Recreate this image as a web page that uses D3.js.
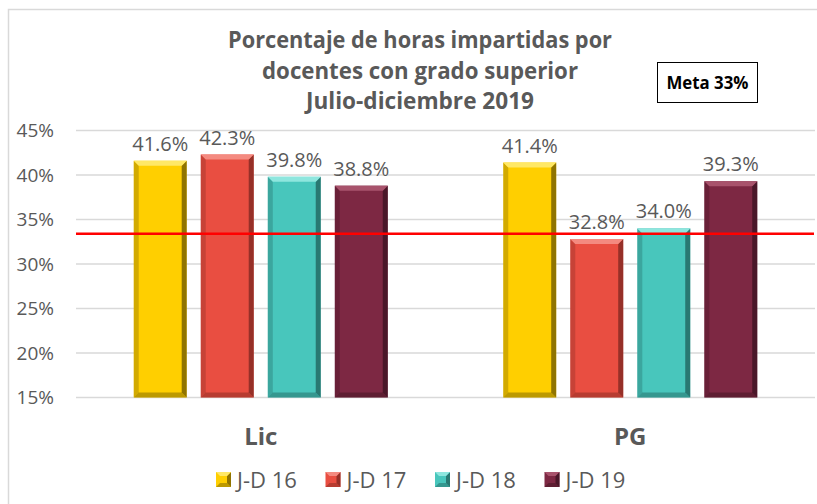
<!DOCTYPE html>
<html>
<head>
<meta charset="utf-8">
<script src="https://cdn.jsdelivr.net/npm/d3@7"></script>
<style>
  body { margin: 0; background: #fff; }
  svg { display: block; font-family: "Open Sans", sans-serif; }
</style>
</head>
<body>
<svg width="817" height="504"></svg>
<script>
const categories = ["Lic", "PG"];
const seriesNames = ["J-D 16", "J-D 17", "J-D 18", "J-D 19"];
const jd16 = [41.6, 41.4];
const jd17 = [42.3, 32.8];
const jd18 = [39.8, 34.0];
const jd19 = [38.8, 39.3];
const yTicks = [15, 20, 25, 30, 35, 40, 45];
const metaLine = 33.4;
const titleLines = ["Porcentaje de horas impartidas por", "docentes con grado superior", "Julio-diciembre 2019"];
const metaLabel = "Meta 33%";

(function() {
const seriesValues = [jd16, jd17, jd18, jd19];
const colors = ["#FFCF00", "#E94E41", "#48C6BC", "#7D2843"];
const darks = ["#6b5600", "#7a2720", "#1f5e59", "#3a1220"];
const lights = ["#FFE866", "#F48A80", "#8EE6DE", "#A8536C"];

const svg = d3.select("svg");

// chart frame
svg.append("path")
  .attr("d", "M8.5,504 L8.5,9.5 L817,9.5")
  .attr("fill", "none")
  .attr("stroke", "#d9d9d9")
  .attr("stroke-width", 1.5);

const plotLeft = 76, plotRight = 815, plotTop = 130.5, plotBottom = 397.5;

const y = d3.scaleLinear().domain([15, 45]).range([plotBottom, plotTop]);
const x0 = d3.scaleBand().domain(categories).range([plotLeft, plotRight])
  .paddingInner(0.3126).paddingOuter(0.1563);
const x1 = d3.scaleBand().domain(seriesNames).range([0, x0.bandwidth()])
  .paddingInner(0.21).paddingOuter(0);

// gridlines
svg.append("g").selectAll("line").data(yTicks).join("line")
  .attr("x1", plotLeft).attr("x2", plotRight)
  .attr("y1", d => y(d)).attr("y2", d => y(d))
  .attr("stroke", "#d9d9d9").attr("stroke-width", 1.3);

// y axis
const yAxis = svg.append("g")
  .attr("transform", `translate(${plotLeft},0)`)
  .call(d3.axisLeft(y).tickValues(yTicks).tickFormat(d => d + "%").tickSize(0).tickPadding(22));
yAxis.select(".domain").remove();
yAxis.selectAll("text")
  .attr("font-family", "Open Sans, sans-serif")
  .attr("font-size", 19).attr("fill", "#595959");

// bars
const rows = [];
categories.forEach((c, ci) => {
  seriesNames.forEach((s, si) => {
    rows.push({ cat: c, ser: s, si: si, v: seriesValues[si][ci] });
  });
});

const bars = svg.append("g").selectAll("g").data(rows).join("g")
  .attr("transform", d => `translate(${x0(d.cat) + x1(d.ser)},0)`);

const bw = x1.bandwidth();
const bev = 5;

bars.append("rect")
  .attr("x", 0).attr("y", d => y(d.v))
  .attr("width", bw).attr("height", d => plotBottom - y(d.v))
  .attr("fill", d => colors[d.si]);

// right edge (dark)
bars.append("path")
  .attr("d", d => {
    const t = y(d.v);
    return `M${bw},${t} L${bw},${plotBottom} L${bw - bev},${plotBottom - bev} L${bw - bev},${t + bev} Z`;
  })
  .attr("fill", d => darks[d.si]).attr("opacity", 0.75);

// bottom edge
bars.append("path")
  .attr("d", d => `M0,${plotBottom} L${bw},${plotBottom} L${bw - bev},${plotBottom - bev} L${bev},${plotBottom - bev} Z`)
  .attr("fill", d => darks[d.si]).attr("opacity", 0.45);

// left edge
bars.append("path")
  .attr("d", d => {
    const t = y(d.v);
    return `M0,${t} L${bev},${t + bev} L${bev},${plotBottom - bev} L0,${plotBottom} Z`;
  })
  .attr("fill", d => darks[d.si]).attr("opacity", 0.3);

// top edge (light)
bars.append("path")
  .attr("d", d => {
    const t = y(d.v);
    return `M0,${t} L${bw},${t} L${bw - bev},${t + bev} L${bev},${t + bev} Z`;
  })
  .attr("fill", d => lights[d.si]);

// value labels
bars.append("text")
  .attr("x", bw / 2).attr("y", d => y(d.v) - 10)
  .attr("text-anchor", "middle")
  .attr("font-size", 20).attr("fill", "#595959")
  .text(d => d.v.toFixed(1) + "%");

// meta line
svg.append("line")
  .attr("x1", plotLeft).attr("x2", plotRight - 1)
  .attr("y1", y(metaLine)).attr("y2", y(metaLine))
  .attr("stroke", "#ff0000").attr("stroke-width", 2.5);

// category labels
svg.append("g").selectAll("text").data(categories).join("text")
  .attr("x", d => x0(d) + x0.bandwidth() / 2).attr("y", 445)
  .attr("text-anchor", "middle")
  .attr("font-size", 24).attr("font-weight", "bold").attr("fill", "#595959")
  .text(d => d);

// title
svg.append("g").selectAll("text").data(titleLines).join("text")
  .attr("x", 420).attr("y", (d, i) => 48 + i * 30.5)
  .attr("text-anchor", "middle")
  .attr("font-size", 23).attr("font-weight", "bold").attr("fill", "#595959")
  .attr("textLength", (d, i) => [384, 316, 228][i])
  .attr("lengthAdjust", "spacingAndGlyphs")
  .text(d => d);

// meta box
svg.append("rect")
  .attr("x", 657.5).attr("y", 62.5).attr("width", 100).attr("height", 40)
  .attr("fill", "#fff").attr("stroke", "#000").attr("stroke-width", 1);
svg.append("text")
  .attr("x", 707.5).attr("y", 88.5).attr("text-anchor", "middle")
  .attr("font-size", 17).attr("font-weight", "bold").attr("fill", "#000")
  .attr("textLength", 82).attr("lengthAdjust", "spacingAndGlyphs")
  .text(metaLabel);

// legend
const legend = svg.append("g").selectAll("g").data(seriesNames).join("g")
  .attr("transform", (d, i) => `translate(${216 + i * 109.5},472)`);
legend.append("rect")
  .attr("width", 15).attr("height", 15)
  .attr("fill", (d, i) => colors[i]);
legend.append("path")
  .attr("d", "M15,0 L15,15 L11,11 L11,4 Z")
  .attr("fill", (d, i) => darks[i]).attr("opacity", 0.75);
legend.append("path")
  .attr("d", "M0,15 L15,15 L11,11 L4,11 Z")
  .attr("fill", (d, i) => darks[i]).attr("opacity", 0.45);
legend.append("path")
  .attr("d", "M0,0 L15,0 L11,4 L4,4 Z")
  .attr("fill", (d, i) => lights[i]);
legend.append("text")
  .attr("x", 21).attr("y", 15.5)
  .attr("font-size", 22).attr("fill", "#595959")
  .text(d => d);
})();
</script>
</body>
</html>
